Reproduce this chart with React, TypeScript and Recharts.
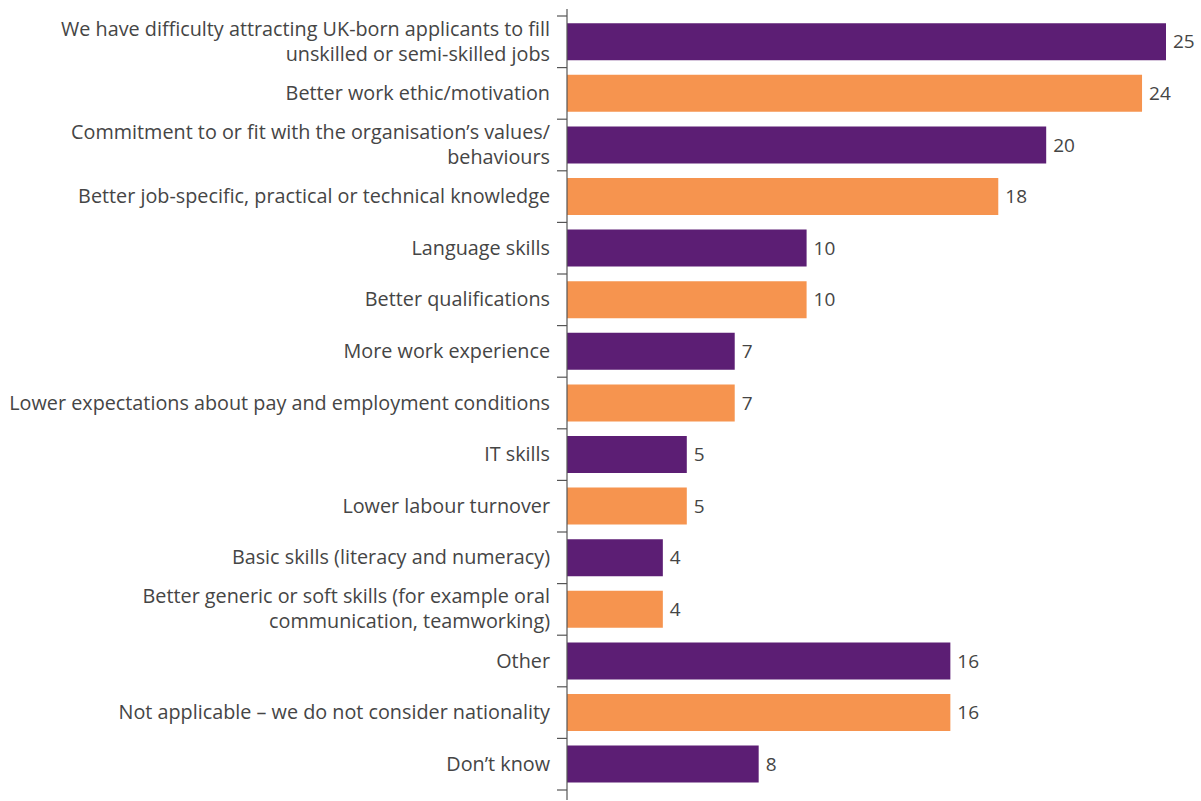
import React from "react";
import { BarChart, Bar, XAxis, YAxis, Cell, LabelList } from "recharts";

const categories: string[] = [
  "We have difficulty attracting UK-born applicants to fill\nunskilled or semi-skilled jobs",
  "Better work ethic/motivation",
  "Commitment to or fit with the organisation’s values/\nbehaviours",
  "Better job-specific, practical or technical knowledge",
  "Language skills",
  "Better qualifications",
  "More work experience",
  "Lower expectations about pay and employment conditions",
  "IT skills",
  "Lower labour turnover",
  "Basic skills (literacy and numeracy)",
  "Better generic or soft skills (for example oral\ncommunication, teamworking)",
  "Other",
  "Not applicable – we do not consider nationality",
  "Don’t know",
];

const values: number[] = [25, 24, 20, 18, 10, 10, 7, 7, 5, 5, 4, 4, 16, 16, 8];

const colors: string[] = ["#5C1E74", "#F6944F"];

const data = categories.map((c, i) => ({ name: c, value: values[i] }));

const WIDTH = 1201;
const HEIGHT = 801;
const MARGIN = { top: 9, right: 35, bottom: 1, left: 0 };
const PAD = { top: 7, bottom: 10 };
const AXIS_W = 567;
const BAND = (HEIGHT - MARGIN.top - MARGIN.bottom - PAD.top - PAD.bottom) / categories.length;
const FONT = "'Open Sans', sans-serif";
const TEXT_COLOR = "#454545";
const AXIS_COLOR = "#555555";

const CategoryTick = (props: any) => {
  const { x, y, payload, index } = props;
  const lines = String(payload.value).split("\n");
  const lineH = 25;
  const startY = y - 1.5 - ((lines.length - 1) * lineH) / 2;
  const axisX = AXIS_W;
  return (
    <g>
      <line x1={axisX - 10} x2={axisX} y1={y - BAND / 2} y2={y - BAND / 2} stroke={AXIS_COLOR} strokeWidth={1.2} />
      {index === categories.length - 1 && (
        <line x1={axisX - 10} x2={axisX} y1={y + BAND / 2} y2={y + BAND / 2} stroke={AXIS_COLOR} strokeWidth={1.2} />
      )}
      <text
        x={axisX - 17}
        y={startY}
        textAnchor="end"
        dominantBaseline="central"
        fontFamily={FONT}
        fontSize={19.8}
        fill={TEXT_COLOR}
      >
        {lines.map((l, i) => (
          <tspan key={i} x={axisX - 17} y={startY + i * lineH} dominantBaseline="central">
            {l}
          </tspan>
        ))}
      </text>
    </g>
  );
};

export default function App() {
  return (
    <div style={{ position: "absolute", left: 0, top: 0, background: "#fff" }}>
      <BarChart
        width={WIDTH}
        height={HEIGHT}
        data={data}
        layout="vertical"
        margin={MARGIN}
        barCategoryGap="14%"
      >
        <XAxis type="number" domain={[0, 25]} hide />
        <YAxis
          type="category"
          dataKey="name"
          width={AXIS_W}
          padding={PAD}
          axisLine={{ stroke: AXIS_COLOR, strokeWidth: 1.2 }}
          tickLine={false}
          tick={<CategoryTick />}
          interval={0}
        />
        <Bar dataKey="value" isAnimationActive={false}>
          {data.map((_, i) => (
            <Cell key={i} fill={colors[i % 2]} />
          ))}
          <LabelList
            dataKey="value"
            position="right"
            offset={7}
            style={{ fontFamily: FONT, fontSize: 19, fill: TEXT_COLOR }}
          />
        </Bar>
      </BarChart>
    </div>
  );
}
